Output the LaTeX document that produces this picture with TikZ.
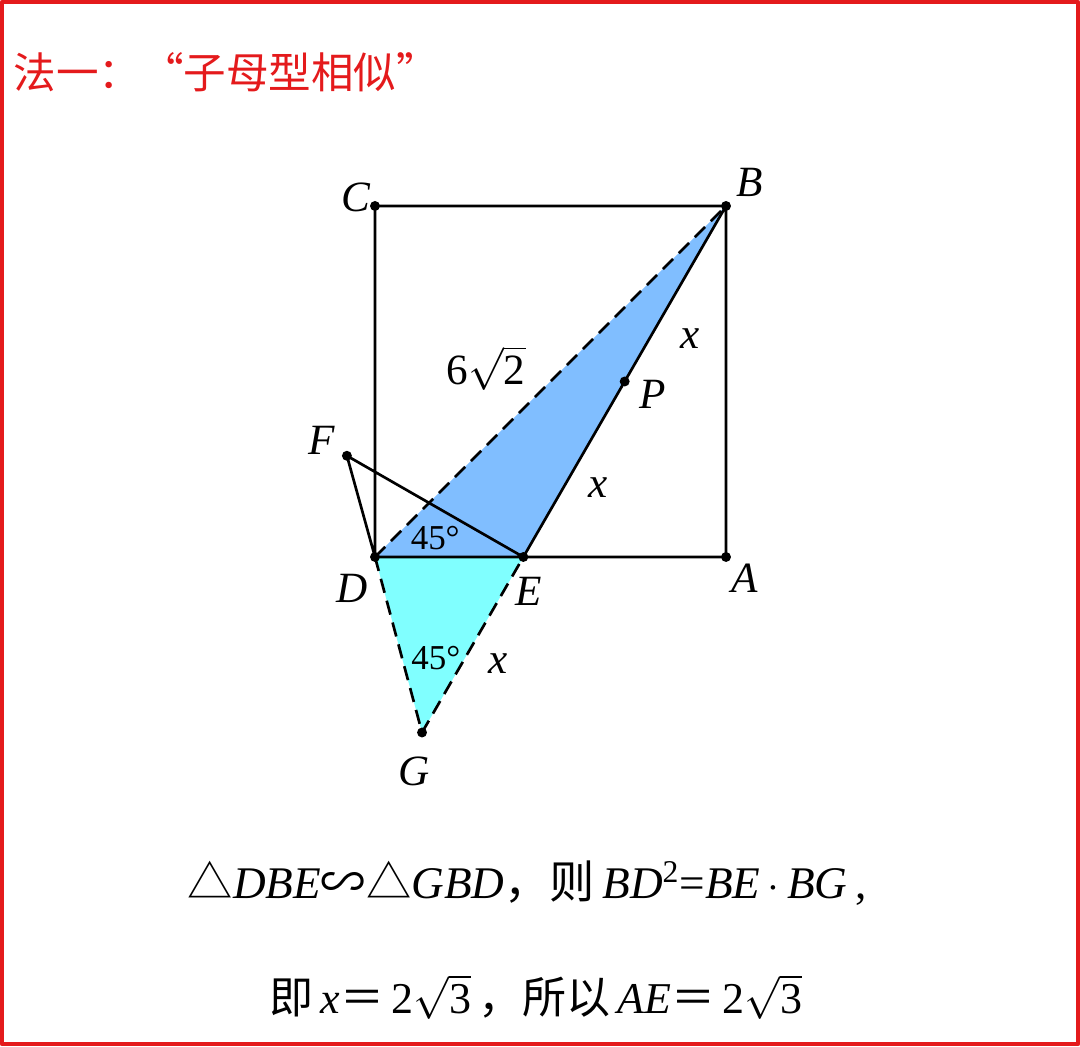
\documentclass[tikz,border=0pt]{standalone}
\usepackage{fontspec}
\setmainfont{Liberation Serif}
\newfontfamily\cjk{Noto Sans CJK SC}
\usetikzlibrary{calc}
\definecolor{triblue}{RGB}{128,190,255}
\definecolor{tricyan}{RGB}{128,255,255}
\definecolor{framered}{RGB}{228,26,28}
\tikzset{
	dashline/.style={dash pattern=on 7pt off 4pt, line cap=butt},
	lbl/.style={font=\fontsize{21}{25}\selectfont\itshape},
	deg/.style={font=\fontsize{17}{20}\selectfont},
}
\begin{document}
\begin{tikzpicture}[line width=1.3pt, line join=round, line cap=round, font=\fontsize{20}{24}\selectfont]
			\useasboundingbox (-6.410,-8.359) rectangle (12.051,9.521);
			\draw [framered, line width=1.8pt] (-6.38,-8.33) rectangle (12.02,9.49);
			\node [anchor=west, text=framered, font=\fontsize{20.7}{24}\selectfont\cjk] (title) at (-6.32,8.29) {法一：“子母型相似”};
			\path (0,0) coordinate (D)
			++(6,0) coordinate (A)
			++(0,6) coordinate (B)
			++(-6,0) coordinate (C)
			({6-2*sqrt(3)},0) coordinate (E)
			($(B)!0.5!(E)$) coordinate (P)
			($(B)!1.5!(E)$) coordinate (G)
			(-0.48,1.73) coordinate (F)
			;
			\fill [triblue] (D)--(B)--(E)--cycle;
			\fill [tricyan] (D)--(E)--(G)--cycle;
			\draw (D)--(C)--(B)--(A)--cycle (B)--(E) (D)--(F)--(E);
			\draw [dashline] (D)--(B) (D)--(G)--(E);
			\foreach \x/\y/\r in {C/155/0.36,B/44/0.57,A/-48/0.48,D/-126/0.66,E/-82/0.6,F/148/0.51,G/-101/0.67,P/-25/0.53}{
				\fill (\x) circle (0.085);
				\path (\x) ++(\y:\r) node [lbl] (l\x) {\x};
			}
			\node [lbl] (xBP) at (5.38,3.74) {x};
			\node [lbl] (xPE) at (3.81,1.18) {x};
			\node [lbl] (xEG) at (2.10,-1.83) {x};
			\node [font=\fontsize{21}{25}\selectfont] (lenBD) at (1.90,3.23) {6$\sqrt{\mbox{2}}$};
			\node [deg] (angD) at (1.03,0.32) {45°};
			\node [deg] (angG) at (1.04,-1.73) {45°};
			\node [font=\fontsize{22}{26}\selectfont] (line1) at (2.6,-5.57) {{\cjk △}\textit{DBE}{\cjk ∽△}\textit{GBD}{\cjk ，则}\,\textit{BD}\textsuperscript{2}=\textit{BE}\,$\cdot$\,\textit{BG}\,,};
			\node [font=\fontsize{21.4}{25}\selectfont] (line2) at (2.75,-7.52) {{\cjk 即}\,\textit{x}{\cjk ＝}\,2$\sqrt{\mbox{3}}$\,{\cjk ，所以}\,\textit{AE}{\cjk ＝}\,2$\sqrt{\mbox{3}}$};
		\end{tikzpicture}
\end{document}
